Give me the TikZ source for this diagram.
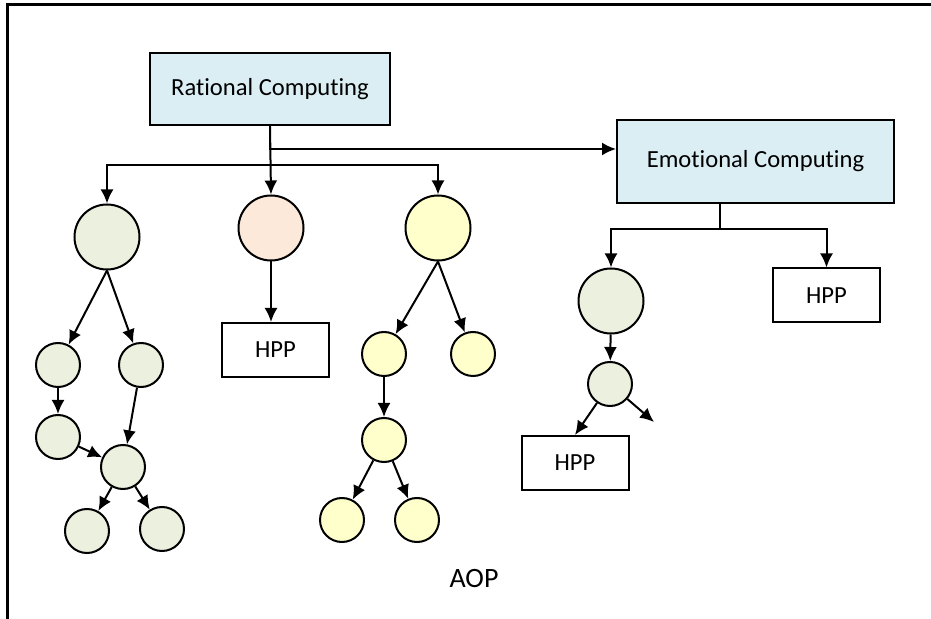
\documentclass[tikz,border=0pt]{standalone}
\usepackage{fontspec}
\setmainfont{Carlito}[Ligatures=NoCommon]
\usetikzlibrary{arrows.meta}
\tikzset{>={Latex[length=7pt, width=6.5pt]}}
\definecolor{compblue}{RGB}{219,238,244}
\definecolor{leafgreen}{RGB}{235,241,222}
\definecolor{leafpink}{RGB}{253,233,217}
\definecolor{leafyellow}{RGB}{255,255,204}
\tikzset{
    comp/.style={draw, fill=compblue, inner sep=0pt, font=\fontsize{12.3}{14}\selectfont},
    hpp/.style={draw, inner sep=0pt, minimum width=53.5pt, minimum height=27pt, font=\fontsize{12.3}{14}\selectfont},
    bignode/.style={circle, draw, inner sep=0pt, minimum size=32.5pt},
    smallnode/.style={circle, draw, inner sep=0pt, minimum size=22pt},
}

\begin{document}
\begin{tikzpicture}[x=0.5pt, y=-0.5pt, line width=1pt]
    \useasboundingbox(0, 0)rectangle(931, 619);
    \draw[line width=1.5pt](7.5, 619)--(7.5, 5)--(931, 5);
    % top boxes
    \node[comp, minimum width=120pt, minimum height=36pt](rc)at(270, 89){Rational Computing};
    \node[comp, minimum width=138.5pt, minimum height=41.5pt](ec)at(755.5, 161.5){Emotional Computing};
    \coordinate(rjoin)at(270, 149);
    \coordinate(rsplit)at(270, 165);
    \coordinate(esplit)at(720, 229);
    % rational tree
    \node[bignode, fill=leafgreen](l1)at(107, 237){};
    \node[smallnode, fill=leafgreen](l2a)at(58, 365){};
    \node[smallnode, fill=leafgreen](l2b)at(141, 365){};
    \node[smallnode, fill=leafgreen](l3a)at(58, 437){};
    \node[smallnode, fill=leafgreen](l3b)at(123, 467){};
    \node[smallnode, fill=leafgreen](l4a)at(87, 531){};
    \node[smallnode, fill=leafgreen](l4b)at(162, 529){};
    \node[bignode, fill=leafpink](p1)at(271, 228){};
    \node[hpp](hppm)at(275.5, 350){HPP};
    \node[bignode, fill=leafyellow](y1)at(438, 228){};
    \node[smallnode, fill=leafyellow](y2a)at(384, 354){};
    \node[smallnode, fill=leafyellow](y2b)at(473, 354){};
    \node[smallnode, fill=leafyellow](y3)at(384, 440){};
    \node[smallnode, fill=leafyellow](y4a)at(342, 520){};
    \node[smallnode, fill=leafyellow](y4b)at(417, 520){};
    % emotional tree
    \node[bignode, fill=leafgreen](e1)at(611, 301){};
    \node[smallnode, fill=leafgreen](e2)at(610, 384){};
    \node[hpp](hppr)at(826.5, 295.5){HPP};
    \node[hpp](hppl)at(575, 463){HPP};
    \coordinate(eout)at(654, 422);
    \node[font=\fontsize{14}{16}\selectfont](aop)at(474, 579){AOP};
    \draw[->](rc.south)--(rjoin)--(rjoin-|ec.west);
    \draw[->](rc.south)--(p1.north);
    \draw[->](rsplit)-|(l1.north);
    \draw[->](rsplit)-|(y1.north);
    \draw(esplit|-ec.south)--(esplit);
    \draw[->](esplit)-|(e1.north);
    \draw[->](esplit)-|(hppr.north);
    \draw[->](p1)--(p1|-hppm.north);
    \draw[->](l1.south)--(l2a);
    \draw[->](l1.south)--(l2b);
    \draw[->](l2a)--(l3a);
    \draw[->](l2b)--(l3b);
    \draw[->](l3a)--(l3b);
    \draw[->](l3b)--(l4a);
    \draw[->](l3b)--(l4b);
    \draw[->](y1.south)--(y2a);
    \draw[->](y1.south)--(y2b);
    \draw[->](y2a)--(y3);
    \draw[->](y3)--(y4a);
    \draw[->](y3)--(y4b);
    \draw[->](e1)--(e2);
    \draw[->](e2)--(hppl.north);
    \draw[->](e2)--(eout);
\end{tikzpicture}
\end{document}
